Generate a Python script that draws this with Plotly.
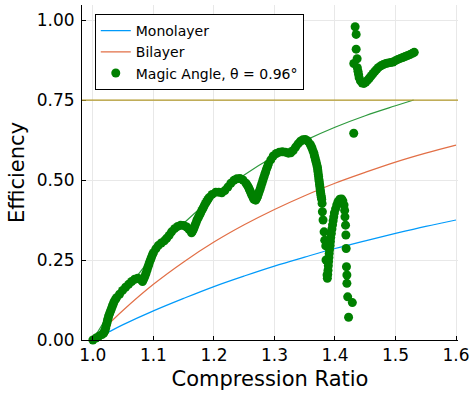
import plotly.graph_objects as go

# ---- theoretical curves ----
ratio = [1.00, 1.025, 1.05, 1.10, 1.15, 1.20, 1.25, 1.30, 1.35, 1.40, 1.45, 1.50, 1.55, 1.60]
monolayer = [0.000, 0.024, 0.048, 0.091, 0.130, 0.167, 0.200, 0.231, 0.259, 0.286, 0.310, 0.333, 0.355, 0.375]
bilayer = [0.000, 0.048, 0.093, 0.174, 0.244, 0.306, 0.360, 0.408, 0.451, 0.490, 0.524, 0.556, 0.584, 0.609]

envelope_r = [1.00, 1.025, 1.05, 1.075, 1.10, 1.15, 1.20, 1.25, 1.30, 1.35, 1.40, 1.45, 1.50, 1.53]
envelope_eff = [0.000, 0.077, 0.147, 0.205, 0.266, 0.365, 0.447, 0.516, 0.574, 0.623, 0.665, 0.701, 0.732, 0.750]

limit_eff = 0.75

# ---- magic angle scatter ----
main_r = [1.000, 1.005, 1.010, 1.015, 1.018, 1.020, 1.022, 1.024, 1.026, 1.029, 1.032, 1.035,
          1.039, 1.044, 1.049, 1.054, 1.059, 1.064, 1.069, 1.074, 1.078, 1.082, 1.085, 1.088,
          1.091, 1.094, 1.097, 1.100, 1.104, 1.108, 1.113, 1.118, 1.122, 1.126, 1.130, 1.135,
          1.140, 1.145, 1.150, 1.155, 1.159, 1.163, 1.166, 1.169, 1.172, 1.176, 1.180, 1.184,
          1.188, 1.192, 1.197, 1.203, 1.208, 1.213, 1.218, 1.223, 1.228, 1.233, 1.238, 1.243,
          1.248, 1.253, 1.257, 1.260, 1.263, 1.266, 1.269, 1.272, 1.275, 1.278, 1.281, 1.284,
          1.287, 1.290, 1.294, 1.298, 1.303, 1.308, 1.313, 1.318, 1.323, 1.327, 1.331, 1.335,
          1.339, 1.343, 1.347, 1.351, 1.355, 1.359, 1.362, 1.365, 1.367, 1.369, 1.371, 1.372,
          1.373, 1.374, 1.375, 1.376, 1.377, 1.378]
main_eff = [0.000, 0.006, 0.012, 0.017, 0.022, 0.030, 0.045, 0.060, 0.075, 0.090, 0.105, 0.120,
            0.132, 0.143, 0.155, 0.165, 0.174, 0.183, 0.190, 0.193, 0.190, 0.183, 0.195, 0.210,
            0.228, 0.245, 0.260, 0.273, 0.285, 0.295, 0.303, 0.310, 0.318, 0.327, 0.338, 0.348,
            0.355, 0.359, 0.358, 0.353, 0.345, 0.335, 0.345, 0.360, 0.375, 0.390, 0.405, 0.420,
            0.433, 0.445, 0.455, 0.462, 0.462, 0.460, 0.467, 0.478, 0.490, 0.499, 0.504, 0.505,
            0.500, 0.490, 0.478, 0.465, 0.452, 0.440, 0.437, 0.448, 0.465, 0.482, 0.500, 0.518,
            0.535, 0.550, 0.563, 0.575, 0.583, 0.587, 0.588, 0.587, 0.584, 0.585, 0.592, 0.603,
            0.613, 0.621, 0.626, 0.627, 0.622, 0.612, 0.600, 0.585, 0.570, 0.555, 0.540, 0.525,
            0.510, 0.495, 0.480, 0.465, 0.452, 0.440]

# extra samples read along the steep stretches of the dense band
steep_r = [1.019, 1.021, 1.023, 1.025, 1.0275, 1.0305, 1.0335, 1.037,
           1.0835, 1.0865, 1.0895, 1.0925, 1.0955, 1.0985,
           1.1645, 1.1675, 1.1705, 1.174, 1.178, 1.182, 1.186, 1.190,
           1.255, 1.2585, 1.2615, 1.2645, 1.2705, 1.2735, 1.2765, 1.2795, 1.2825, 1.2855, 1.2885,
           1.3605, 1.3635, 1.366, 1.368, 1.370, 1.3715, 1.3725, 1.3735, 1.3745, 1.3755, 1.3765, 1.3775]
steep_eff = [0.026, 0.037, 0.052, 0.067, 0.082, 0.097, 0.112, 0.126,
             0.189, 0.202, 0.219, 0.236, 0.252, 0.267,
             0.340, 0.352, 0.367, 0.382, 0.397, 0.412, 0.427, 0.439,
             0.484, 0.471, 0.458, 0.446, 0.442, 0.456, 0.473, 0.491, 0.509, 0.526, 0.542,
             0.606, 0.592, 0.577, 0.562, 0.547, 0.532, 0.517, 0.502, 0.487, 0.472, 0.458, 0.446]

fall_r = [1.3787, 1.3792, 1.3803, 1.3820, 1.3831, 1.3848, 1.3852, 1.3869, 1.3874]
fall_eff = [0.427, 0.401, 0.375, 0.338, 0.312, 0.294, 0.250, 0.203, 0.193]

loop_r = [1.388, 1.3885, 1.389, 1.3895, 1.390, 1.3905, 1.391, 1.392, 1.3925, 1.393, 1.394,
          1.395, 1.396, 1.397, 1.398, 1.399, 1.401, 1.403, 1.405, 1.408, 1.411, 1.413, 1.415, 1.416]
loop_eff = [0.205, 0.218, 0.232, 0.245, 0.258, 0.270, 0.282, 0.295, 0.308, 0.320, 0.333,
            0.347, 0.360, 0.373, 0.385, 0.397, 0.410, 0.422, 0.432, 0.440, 0.441, 0.435, 0.422, 0.405]

drop_r = [1.4165, 1.4175, 1.4180, 1.4185, 1.4190, 1.4197, 1.4197, 1.4210, 1.4287, 1.4225, 1.4310]
drop_eff = [0.385, 0.359, 0.328, 0.286, 0.229, 0.203, 0.177, 0.135, 0.117, 0.071, 0.646]

upper_r = [1.4333, 1.4350, 1.4350, 1.4366, 1.4311,
           1.437, 1.438, 1.439, 1.440, 1.442, 1.445, 1.448, 1.451, 1.454, 1.457, 1.460,
           1.463, 1.466, 1.469, 1.472, 1.476, 1.480, 1.484, 1.488, 1.492, 1.496, 1.500,
           1.504, 1.508, 1.512, 1.516, 1.520, 1.524, 1.528, 1.531]
upper_eff = [0.979, 0.955, 0.909, 0.879, 0.864,
             0.851, 0.840, 0.830, 0.820, 0.810, 0.803, 0.802, 0.806, 0.812, 0.819, 0.826,
             0.833, 0.840, 0.846, 0.852, 0.857, 0.861, 0.864, 0.866, 0.867, 0.869, 0.873,
             0.877, 0.880, 0.883, 0.886, 0.889, 0.892, 0.896, 0.899]

magic_r = main_r + steep_r + fall_r + loop_r + drop_r + upper_r
magic_eff = main_eff + steep_eff + fall_eff + loop_eff + drop_eff + upper_eff

x_ticks = [1.0, 1.1, 1.2, 1.3, 1.4, 1.5, 1.6]
y_ticks = [0.0, 0.25, 0.5, 0.75, 1.0]

FONT = "DejaVu Sans"

fig = go.Figure()
fig.add_trace(go.Scatter(x=ratio, y=monolayer, mode="lines", name="Monolayer",
                         line=dict(color="#009AFA", width=1.2, shape="spline")))
fig.add_trace(go.Scatter(x=ratio, y=bilayer, mode="lines", name="Bilayer",
                         line=dict(color="#E26F46", width=1.2, shape="spline")))
fig.add_trace(go.Scatter(x=envelope_r, y=envelope_eff, mode="lines", showlegend=False,
                         line=dict(color="#2E9A3E", width=1.2, shape="spline")))
fig.add_trace(go.Scatter(x=magic_r, y=magic_eff, mode="markers", name="Magic Angle, θ = 0.96°",
                         marker=dict(color="#008000", size=9, line=dict(width=0)),
                         cliponaxis=False))

fig.add_shape(type="line", xref="paper", x0=0, x1=1, yref="y", y0=limit_eff, y1=limit_eff,
              line=dict(color="#B39A2A", width=1.2), layer="above")

axis_common = dict(showline=True, linecolor="black", linewidth=1, mirror=False,
                   ticks="inside", ticklen=4, tickcolor="black", showgrid=True,
                   gridcolor="#e8e8e8", gridwidth=1, zeroline=False,
                   tickfont=dict(family=FONT, size=17, color="black"))

fig.update_xaxes(range=[0.982, 1.6033], tickvals=x_ticks, tickformat=".1f",
                 title=dict(text="Compression Ratio", font=dict(family=FONT, size=21, color="black"),
                            standoff=6),
                 **axis_common)
fig.update_yaxes(range=[0, 1.047], tickvals=y_ticks, tickformat=".2f",
                 ticklabelstandoff=3,
                 title=dict(text="Efficiency", font=dict(family=FONT, size=21, color="black"),
                            standoff=6),
                 **axis_common)

fig.update_layout(
    width=472, height=401,
    margin=dict(l=82, r=14, t=5, b=61, autoexpand=False),
    paper_bgcolor="white", plot_bgcolor="white",
    font=dict(family=FONT, color="black"),
    legend=dict(x=0.034, y=0.973, xanchor="left", yanchor="top",
                bgcolor="white", bordercolor="black", borderwidth=1,
                font=dict(family=FONT, size=14, color="black"), tracegroupgap=0),
)

fig.write_html("out.html")
